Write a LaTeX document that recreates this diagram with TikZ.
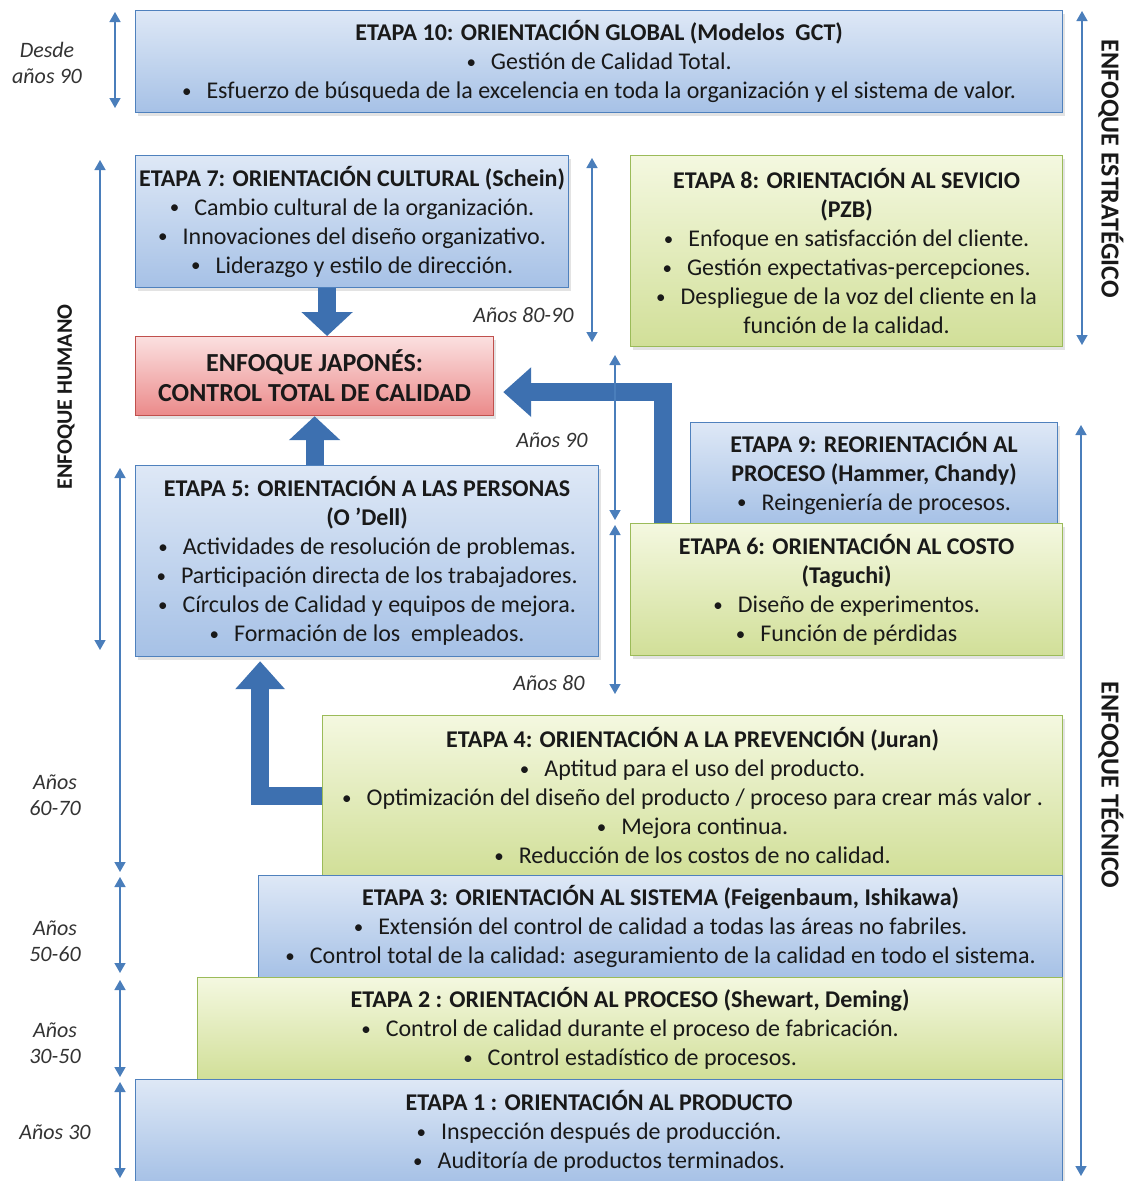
\documentclass[tikz,border=0pt]{standalone}
\usepackage{fontspec}
\setmainfont{Carlito}
\usetikzlibrary{arrows.meta,shadows,calc}

\definecolor{bluetop}{HTML}{DEE8F6}
\definecolor{bluebot}{HTML}{A6C1E6}
\definecolor{blueedge}{HTML}{4F81BD}
\definecolor{greentop}{HTML}{F4F8E0}
\definecolor{greenbot}{HTML}{D1DF98}
\definecolor{greenedge}{HTML}{9BBB59}
\definecolor{redtop}{HTML}{FBE0E0}
\definecolor{redbot}{HTML}{EB8A8A}
\definecolor{rededge}{HTML}{C0504D}
\definecolor{fatblue}{HTML}{3D70B0}
\definecolor{rangeblue}{HTML}{4A7EBB}

% bulleted line: small bullet, then a tab-like gap
\newcommand\itm[1]{\raisebox{1.2pt}{\fontsize{19}{19}\selectfont\textbullet}\hspace{15pt}#1}

\begin{document}
\begin{tikzpicture}[x=1pt,y=-1pt,
  every node/.style={font=\fontsize{24}{29}\selectfont, text=black!90},
  box/.style={draw, line width=1.2pt, inner sep=0pt, align=center, anchor=north west,
    drop shadow={opacity=0.22, shadow xshift=2pt, shadow yshift=-3pt}},
  bluebox/.style={box, draw=blueedge, top color=bluetop, bottom color=bluebot},
  greenbox/.style={box, draw=greenedge, top color=greentop, bottom color=greenbot},
  redbox/.style={box, draw=rededge, top color=redtop, bottom color=redbot},
  span/.style={draw=rangeblue, line width=1.5pt,
    {Triangle[width=11pt,length=10pt]}-{Triangle[width=11pt,length=10pt]}},
  period/.style={font=\fontsize{22}{26}\selectfont\itshape, align=center, text=black!80},
  approach/.style={font=\fontsize{26}{30}\selectfont\bfseries},
  fatarrow/.style={draw=fatblue, line width=18pt, line join=miter,
    -{Triangle[width=50pt,length=24pt,fill=fatblue]}},
  fatarrowL/.style={draw=fatblue, line width=18pt, line join=miter,
    -{Triangle[width=48pt,length=28pt,fill=fatblue]}}]

\useasboundingbox[fill=white] (0,0) rectangle (1128,1181);

% ---- stage boxes ----
\node[bluebox, minimum width=927pt, minimum height=102pt] (e10) at (135,10)
  {\textbf{ETAPA 10: ORIENTACIÓN GLOBAL (Modelos\ \ GCT)}\\
   \itm{Gestión de Calidad Total.}\\
   \itm{Esfuerzo de búsqueda de la excelencia en toda la organización y el sistema de valor.}};

\node[bluebox, minimum width=433pt, minimum height=132pt] (e7) at (135,155)
  {\textbf{ETAPA 7: ORIENTACIÓN CULTURAL (Schein)}\\
   \itm{Cambio cultural de la organización.}\\
   \itm{Innovaciones del diseño organizativo.}\\
   \itm{Liderazgo y estilo de dirección.}};

\node[greenbox, minimum width=432pt, minimum height=191pt] (e8) at (630,155)
  {\textbf{ETAPA 8: ORIENTACIÓN AL SEVICIO}\\
   \textbf{(PZB)}\\
   \itm{Enfoque en satisfacción del cliente.}\\
   \itm{Gestión expectativas-percepciones.}\\
   \itm{Despliegue de la voz del cliente en la}\\
   función de la calidad.};

\node[redbox, minimum width=358pt, minimum height=79pt,
  font=\fontsize{26}{30}\selectfont\bfseries] (jp) at (135,336)
  {ENFOQUE JAPONÉS:\\CONTROL TOTAL DE CALIDAD};

\node[bluebox, minimum width=367pt, minimum height=101pt] (e9) at (690,422)
  {\textbf{ETAPA 9: REORIENTACIÓN AL}\\
   \textbf{PROCESO (Hammer, Chandy)}\\
   \itm{Reingeniería de procesos.}};

\node[greenbox, minimum width=432pt, minimum height=132pt] (e6) at (630,523)
  {\textbf{ETAPA 6: ORIENTACIÓN AL COSTO}\\
   \textbf{(Taguchi)}\\
   \itm{Diseño de experimentos.}\\
   \itm{Función de pérdidas}};

\node[bluebox, minimum width=463pt, minimum height=191pt] (e5) at (135,465)
  {\textbf{ETAPA 5: ORIENTACIÓN A LAS PERSONAS}\\
   \textbf{(O 'Dell)}\\
   \itm{Actividades de resolución de problemas.}\\
   \itm{Participación directa de los trabajadores.}\\
   \itm{Círculos de Calidad y equipos de mejora.}\\
   \itm{Formación de los\ \ empleados.}};

\node[greenbox, minimum width=740pt, minimum height=160pt] (e4) at (322,715)
  {\textbf{ETAPA 4: ORIENTACIÓN A LA PREVENCIÓN (Juran)}\\
   \itm{Aptitud para el uso del producto.}\\
   \itm{Optimización del diseño del producto / proceso para crear más valor .}\\
   \itm{Mejora continua.}\\
   \itm{Reducción de los costos de no calidad.}};

\node[bluebox, minimum width=804pt, minimum height=102pt] (e3) at (258,875)
  {\textbf{ETAPA 3: ORIENTACIÓN AL SISTEMA (Feigenbaum, Ishikawa)}\\
   \itm{Extensión del control de calidad a todas las áreas no fabriles.}\\
   \itm{Control total de la calidad: aseguramiento de la calidad en todo el sistema.}};

\node[greenbox, minimum width=865pt, minimum height=102pt] (e2) at (197,977)
  {\textbf{ETAPA 2 : ORIENTACIÓN AL PROCESO (Shewart, Deming)}\\
   \itm{Control de calidad durante el proceso de fabricación.}\\
   \itm{Control estadístico de procesos.}};

\node[bluebox, minimum width=927pt, minimum height=103pt] (e1) at (135,1079)
  {\textbf{ETAPA 1 : ORIENTACIÓN AL PRODUCTO}\\
   \itm{Inspección después de producción.}\\
   \itm{Auditoría de productos terminados.}};

% ---- block arrows between stages ----
\draw[fatarrow] ([xshift=-25pt]e7.south) -- ([xshift=-25pt]e7.south |- jp.north);
\draw[fatarrow] (e5.north -| jp.south) -- (jp.south);
\draw[fatarrowL] ($(e6.north west)+(33,0)$) |- ([xshift=9pt,yshift=-16pt]jp.east);
\draw[fatarrowL] ($(e4.north west)+(0,81)$) -| ([xshift=-107pt,yshift=-4pt]e5.south);

% ---- period spans ----
\coordinate (p10a) at (115,12);   \coordinate (p10b) at (115,108);
\coordinate (huma) at (100,160);  \coordinate (humb) at (100,650);
\coordinate (p60a) at (120,468);  \coordinate (p60b) at (120,872);
\coordinate (p50a) at (120,877);  \coordinate (p50b) at (120,973);
\coordinate (p30a) at (120,980);  \coordinate (p30b) at (120,1077);
\coordinate (p0a)  at (120,1082); \coordinate (p0b)  at (120,1178);
\coordinate (p89a) at (592,158);  \coordinate (p89b) at (592,342);
\coordinate (p90a) at (615,355);  \coordinate (p90b) at (615,520);
\coordinate (p80a) at (615,525);  \coordinate (p80b) at (615,694);
\coordinate (esta) at (1082,11);  \coordinate (estb) at (1082,345);
\coordinate (teca) at (1081,425); \coordinate (tecb) at (1081,1176);

\draw[span] (p10a) -- (p10b);
\draw[span] (huma) -- (humb);
\draw[span] (p60a) -- (p60b);
\draw[span] (p50a) -- (p50b);
\draw[span] (p30a) -- (p30b);
\draw[span] (p0a) -- (p0b);
\draw[span] (p89a) -- (p89b);
\draw[span] (p90a) -- (p90b);
\draw[span] (p80a) -- (p80b);
\draw[span] (esta) -- (estb);
\draw[span] (teca) -- (tecb);

% ---- period labels ----
\node[period] (l10) at (47,63) {Desde\\años 90};
\node[period] (l60) at (55,795) {Años\\60-70};
\node[period] (l50) at (55,941) {Años\\50-60};
\node[period] (l30) at (55,1043) {Años\\30-50};
\node[period] (l0)  at (55,1132) {Años 30};
\node[period, anchor=east] (l89) at (577,315) {Años 80-90};
\node[period, anchor=east] (l90) at (591,440) {Años 90};
\node[period, anchor=east] (l80) at (588,683) {Años 80};

% ---- approach labels ----
\node[approach, rotate=90, font=\fontsize{22}{26}\selectfont\bfseries] (hum) at (66,397) {ENFOQUE HUMANO};
\node[approach, rotate=-90] (est) at (1111,169) {ENFOQUE ESTRATÉGICO};
\node[approach, rotate=-90] (tec) at (1111,785) {ENFOQUE TÉCNICO};

\end{tikzpicture}
\end{document}
